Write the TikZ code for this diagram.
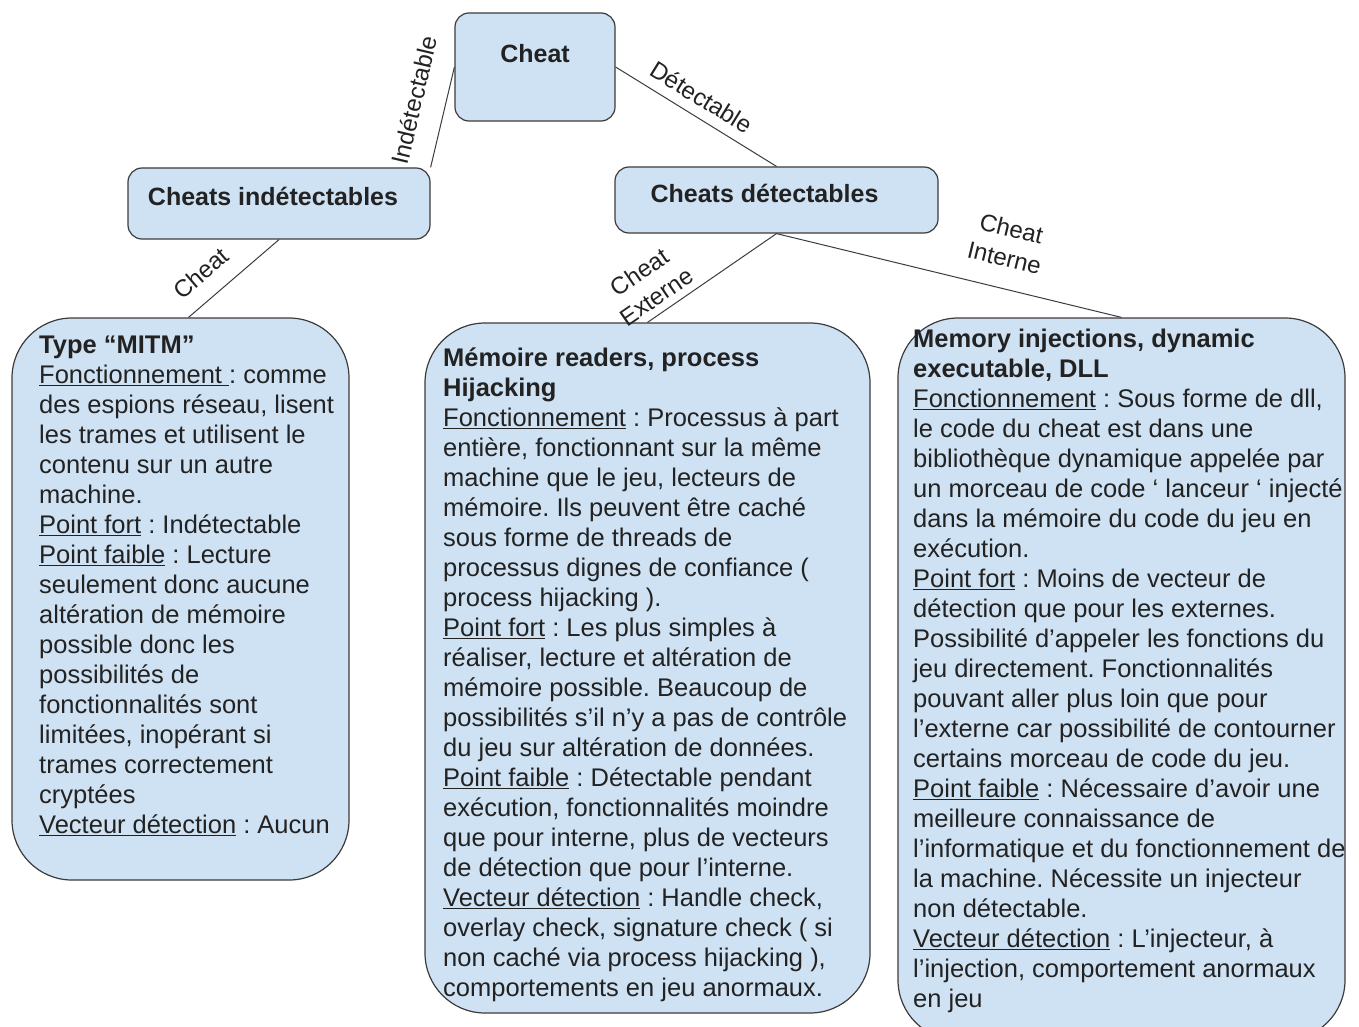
\documentclass[tikz,border=0pt]{standalone}
\usepackage{fontspec}
\setmainfont{Liberation Sans}
\usetikzlibrary{positioning}
\definecolor{boxblue}{HTML}{CFE2F3}
\definecolor{boxline}{HTML}{3C3C3C}
\definecolor{inkgray}{HTML}{222222}
\frenchspacing

\begin{document}
\begin{tikzpicture}[x=1pt, y=-1pt,
  smallbox/.style={draw=boxline, fill=boxblue, line width=1.2pt, rounded corners=14, inner sep=0},
  bigbox/.style={draw=boxline, fill=boxblue, line width=1.2pt, rounded corners=60, inner sep=0},
  titletext/.style={font=\fontsize{25}{30}\selectfont\bfseries, text=inkgray, inner sep=0},
  bodytext/.style={font=\fontsize{25.5}{30}\selectfont, text=inkgray, align=left, anchor=north west, inner sep=0},
  link/.style={draw=boxline, line width=1pt},
  edgelabel/.style={font=\fontsize{24}{30}\selectfont, text=inkgray, align=center, inner sep=2pt, sloped}]

\path[fill=white] (0,0) rectangle (1359,1027);
\useasboundingbox (0,0) rectangle (1359,1027);

% top of the tree
\node[smallbox, minimum width=160, minimum height=108] (cheat) at (535,67) {};
\node[smallbox, minimum width=302, minimum height=71] (indet) at (279,203.5) {};
\node[smallbox, minimum width=323, minimum height=66] (det) at (776.5,200) {};

\node[titletext] (cheatT) at ([yshift=-41pt]cheat.north) {Cheat};
\node[titletext] (indetT) at ([xshift=-6pt, yshift=-29pt]indet.north) {Cheats indétectables};
\node[titletext] (detT) at ([xshift=-12pt, yshift=-27pt]det.north) {Cheats détectables};

% the three kinds of cheat
\node[bigbox, minimum width=337, minimum height=562] (mitm) at (180.5,599) {};
\node[bigbox, minimum width=445, minimum height=690] (extern) at (647.5,668) {};
\node[bigbox, minimum width=447, minimum height=722] (intern) at (1121.5,679) {};

% links
\draw[link] (indet.north east) -- (cheat.west)
    node[edgelabel, pos=0.6, above=20pt] (lblIndet) {Indétectable};
\draw[link] (cheat.east) -- (det.north)
    node[edgelabel, pos=0.47, above=8pt] (lblDet) {Détectable};
\draw[link] ([xshift=8pt]mitm.north) -- (indet.south)
    node[edgelabel, pos=0.32, above=14pt] (lblMitm) {Cheat};
\draw[link] (extern.north) -- (det.south)
    node[edgelabel, pos=0.14, above=5pt] (lblExt) {Cheat\\Externe};
\draw[link] (det.south) -- (intern.north)
    node[edgelabel, pos=0.64, above=19pt] (lblInt) {Cheat\\Interne};

% box texts
\node[bodytext] (mitmTxt) at (39,336) {%
\textbf{Type “MITM”}\\
\underline{Fonctionnement\ }: comme\\
des espions réseau, lisent\\
les trames et utilisent le\\
contenu sur un autre\\
machine.\\
\underline{Point fort} : Indétectable\\
\underline{Point faible} : Lecture\\
seulement donc aucune\\
altération de mémoire\\
possible donc les\\
possibilités de\\
fonctionnalités sont\\
limitées, inopérant si\\
trames correctement\\
cryptées\\
\underline{Vecteur détection} : Aucun};

\node[bodytext] (externTxt) at (443,348) {%
\textbf{Mémoire readers, process}\\
\textbf{Hijacking}\\
\underline{Fonctionnement} : Processus à part\\
entière, fonctionnant sur la même\\
machine que le jeu, lecteurs de\\
mémoire. Ils peuvent être caché\\
sous forme de threads de\\
processus dignes de confiance (\\
process hijacking ).\\
\underline{Point fort} : Les plus simples à\\
réaliser, lecture et altération de\\
mémoire possible. Beaucoup de\\
possibilités s'il n'y a pas de contrôle\\
du jeu sur altération de données.\\
\underline{Point faible} : Détectable pendant\\
exécution, fonctionnalités moindre\\
que pour interne, plus de vecteurs\\
de détection que pour l’interne.\\
\underline{Vecteur détection} : Handle check,\\
overlay check, signature check ( si\\
non caché via process hijacking ),\\
comportements en jeu anormaux.};

\node[bodytext] (internTxt) at (913,329) {%
\textbf{Memory injections, dynamic}\\
\textbf{executable, DLL}\\
\underline{Fonctionnement} : Sous forme de dll,\\
le code du cheat est dans une\\
bibliothèque dynamique appelée par\\
un morceau de code ‘ lanceur ‘ injecté\\
dans la mémoire du code du jeu en\\
exécution.\\
\underline{Point fort} : Moins de vecteur de\\
détection que pour les externes.\\
Possibilité d'appeler les fonctions du\\
jeu directement. Fonctionnalités\\
pouvant aller plus loin que pour\\
l’externe car possibilité de contourner\\
certains morceau de code du jeu.\\
\underline{Point faible} : Nécessaire d’avoir une\\
meilleure connaissance de\\
l’informatique et du fonctionnement de\\
la machine. Nécessite un injecteur\\
non détectable.\\
\underline{Vecteur détection} : L’injecteur, à\\
l’injection, comportement anormaux\\
en jeu};

\end{tikzpicture}
\end{document}
